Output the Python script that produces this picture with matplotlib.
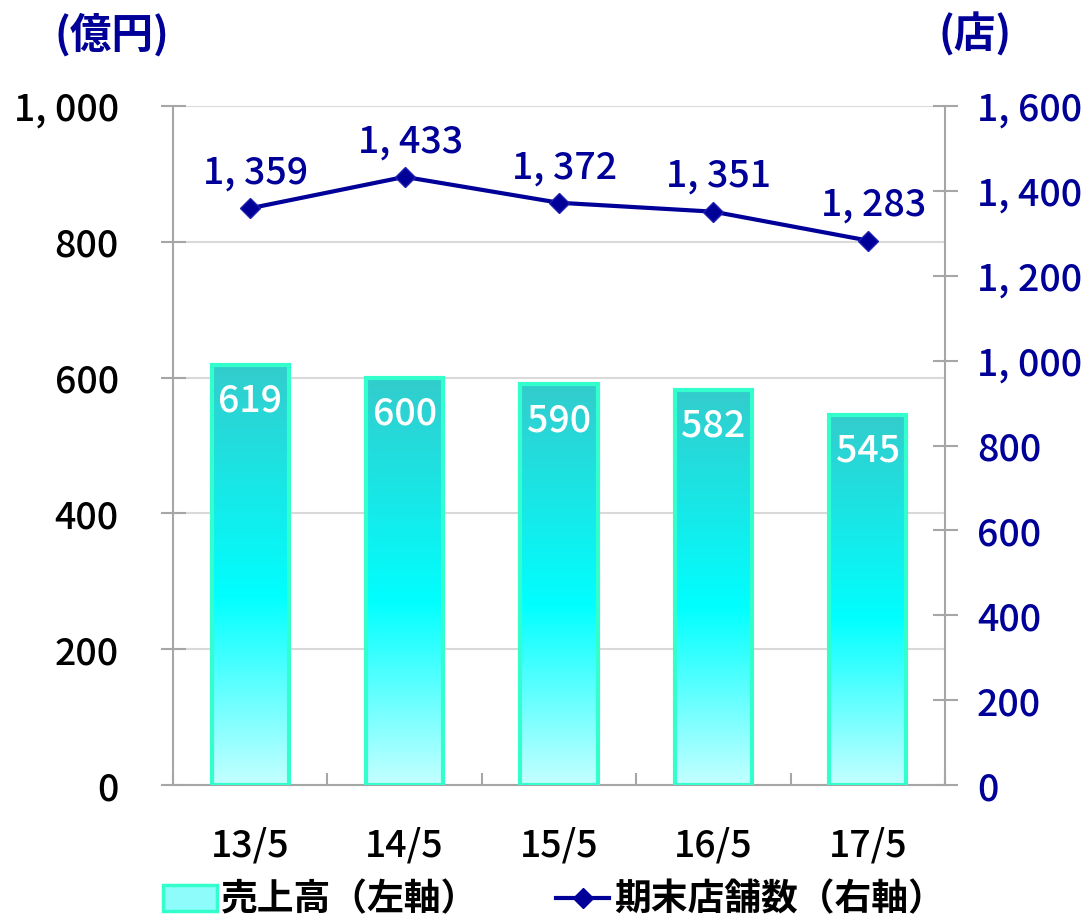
import matplotlib
matplotlib.use('Agg')
import matplotlib.pyplot as plt
from matplotlib.colors import LinearSegmentedColormap
from matplotlib.lines import Line2D
from matplotlib.patches import Patch
import numpy as np

# data
periods = ['13/5', '14/5', '15/5', '16/5', '17/5']
sales = [619, 600, 590, 582, 545]          # 億円, left axis
stores = [1359, 1433, 1372, 1351, 1283]    # 店, right axis
left_ticks = [0, 200, 400, 600, 800, 1000]
right_ticks = [0, 200, 400, 600, 800, 1000, 1200, 1400, 1600]

plt.rcParams['font.family'] = ['Noto Sans CJK JP', 'DejaVu Sans']
plt.rcParams['font.weight'] = 'medium'

navy = '#000099'
grid_gray = '#d9d9d9'
axis_gray = '#a6a6a6'
fs = 27


def fmt(v):
    return '{:,}'.format(v).replace(',', ', ')


fig = plt.figure(figsize=(10.9, 9.21), dpi=100)
ax = fig.add_axes([173/1090, 1 - 785/921, (945-173)/1090, (785-106)/921])
ax2 = ax.twinx()

x = np.arange(len(periods))
bars = ax.bar(x, sales, width=0.5, facecolor='none', edgecolor='#33ffcc', linewidth=3, zorder=3)

# vertical gradient inside each bar
cmap = LinearSegmentedColormap.from_list('bar', [(0, '#c4ffff'), (0.45, '#00ffff'), (1, '#33cccc')])
grad = np.linspace(0, 1, 256).reshape(-1, 1)
for b in bars:
    ax.imshow(grad, extent=[b.get_x(), b.get_x() + b.get_width(), 0, b.get_height()],
              origin='lower', aspect='auto', cmap=cmap, zorder=2)

for xi, v in zip(x, sales):
    ax.annotate(str(v), (xi, v), xytext=(0, -12), textcoords='offset points',
                ha='center', va='top', color='white', fontsize=fs, zorder=5)

ax.set_xlim(-0.5, len(periods) - 0.5)
ax.set_ylim(0, 1000)
ax.set_yticks(left_ticks)
ax.set_yticklabels([fmt(t) for t in left_ticks], fontsize=fs)
ax.set_xticks(x)
ax.set_xticklabels(periods, fontsize=fs)
ax.set_xticks(np.arange(-0.5, len(periods)), minor=True)
ax.tick_params(axis='x', which='major', length=0, pad=30)
ax.tick_params(axis='x', which='minor', direction='in', length=9, color=axis_gray, width=1.5)
ax.tick_params(axis='y', direction='inout', length=18, color=axis_gray, width=1.5, pad=30)
ax.yaxis.grid(True, color=grid_gray, linewidth=1.5, zorder=0)
ax.set_axisbelow(True)
for s in ['top', 'right']:
    ax.spines[s].set_visible(False)
for s in ['left', 'bottom']:
    ax.spines[s].set_color(axis_gray)
    ax.spines[s].set_linewidth(1.5)

ax2.plot(x, stores, color=navy, linewidth=3, marker='D', markersize=10,
         markerfacecolor=navy, markeredgecolor='#2020b0', zorder=6)
for xi, v in zip(x, stores):
    ax2.annotate(fmt(v), (xi, v), xytext=(4, 12), textcoords='offset points',
                 ha='center', va='bottom', color=navy, fontsize=fs)
ax2.set_ylim(0, 1600)
ax2.set_yticks(right_ticks)
ax2.set_yticklabels([fmt(t) for t in right_ticks], fontsize=fs, color=navy)
ax2.tick_params(axis='y', direction='inout', length=18, color=axis_gray, width=1.5, pad=14)
for s in ['top', 'left', 'bottom']:
    ax2.spines[s].set_visible(False)
ax2.spines['right'].set_color(axis_gray)
ax2.spines['right'].set_linewidth(1.5)

fig.text(112/1090, 1 - 35/921, '(億円)', color=navy, fontsize=30, fontweight='bold', ha='center', va='center')
fig.text(975/1090, 1 - 35/921, '(店)', color=navy, fontsize=30, fontweight='bold', ha='center', va='center')

handles = [Patch(facecolor='#8ffcfc', edgecolor='#33ffcc', linewidth=2.5),
           Line2D([0], [0], color=navy, linewidth=3, marker='D', markersize=10)]
fig.legend(handles, ['売上高（左軸）', '期末店舗数（右軸）'], loc='center', bbox_to_anchor=(554/1090, 1 - 900/921),
           ncol=2, frameon=False, prop={'size': 26.5, 'weight': 'bold'}, columnspacing=2.1,
           handlelength=1.45, handletextpad=0.13, borderpad=0, borderaxespad=0)

fig.savefig('out.png', dpi=100)
